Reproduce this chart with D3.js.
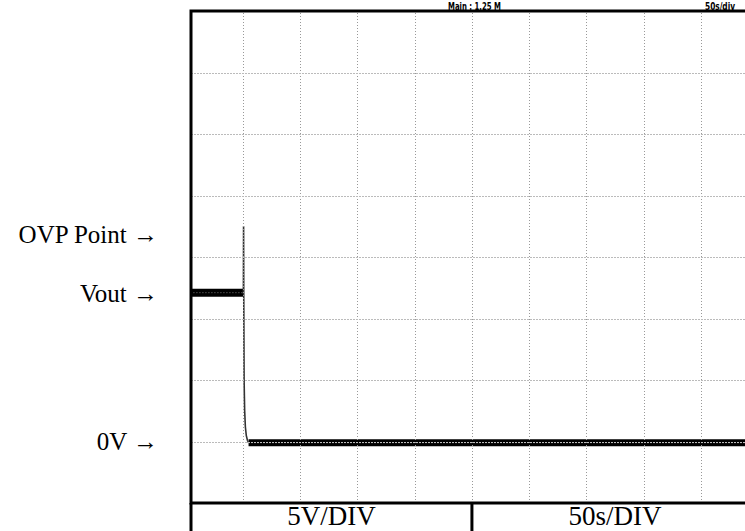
<!DOCTYPE html>
<html>
    <head>
        <meta charset="utf-8">
        <style>
        html, body {
            margin: 0px;
            background: #fff;
        }
        svg { display: block; }
        .grid line {
            stroke: #999;
            stroke-width: 1;
            shape-rendering: crispEdges;
        }
        .grid path { display: none; }
        .note {
            font-family: "Liberation Serif", "Times New Roman", serif;
            fill: #000;
        }
        .scope {
            font-family: "Liberation Sans Narrow", "DejaVu Sans", sans-serif;
            font-size: 10px;
            font-weight: bold;
            fill: #000;
        }
        </style>
    </head>
    <body>
        <svg class="chart" width="745" height="531"></svg>
        <script src="https://cdn.jsdelivr.net/npm/d3@7"></script>
        <script>
            // trace, volts vs seconds (50s/div, 5V/div)
            var voutTime = [-46, 0.3];
            var voutVolts = [12.1, 12.1];
            var spikeTime = [0.3, 0.45, 0.6, 0.9, 1.4, 2.0, 2.8, 3.8, 4.8];
            var spikeVolts = [12, 17.5, 12, 5, 2.5, 1.2, 0.5, 0.1, -0.1];
            var offTime = [4.8, 460];
            var offVolts = [-0.1, -0.1];

            var timeTicks = [0, 50, 100, 150, 200, 250, 300, 350, 400];
            var voltTicks = [0, 5, 10, 15, 20, 25, 30];

            var labels = ["OVP Point \u2192", "Vout \u2192", "0V \u2192"];
            var labelVolts = [16.8, 12, 0];
            var footer = ["5V/DIV", "50s/DIV"];
            var header = ["Main : 1.25 M", "50s/div"];

            var margin = {top: 11, left: 191},
                width = 567,
                height = 492;

            var svg = d3.select(".chart");

            var x = d3.scaleLinear().domain([-45.5, 450]).range([0, width]);
            var y = d3.scaleLinear().domain([-5, 35]).range([height, 0]);

            var chart = svg.append("g")
                .attr("transform", "translate(" + margin.left + "," + margin.top + ")");

            chart.append("defs").append("clipPath").attr("id", "plot")
                .append("rect").attr("width", width).attr("height", height);

            // trace
            var trace = chart.append("g").attr("clip-path", "url(#plot)");
            var line = d3.line()
                .x(function(d) { return x(d[0]); })
                .y(function(d) { return y(d[1]); });

            function pairs(t, v) {
                return t.map(function(d, i) { return [d, v[i]]; });
            }

            [[voutTime, voutVolts, 8], [offTime, offVolts, 7]].forEach(function(s) {
                trace.append("path")
                    .attr("d", line(pairs(s[0], s[1])))
                    .attr("fill", "none")
                    .attr("stroke", "#000")
                    .attr("stroke-width", s[2]);
                trace.append("path")
                    .attr("d", line(pairs(s[0], s[1])))
                    .attr("fill", "none")
                    .attr("stroke", "#777")
                    .attr("stroke-width", 1)
                    .attr("stroke-dasharray", "1,2");
            });

            trace.append("path")
                .attr("d", line(pairs(spikeTime, spikeVolts)))
                .attr("fill", "none")
                .attr("stroke", "#333")
                .attr("stroke-width", 1.6);

            // grid
            chart.append("g")
                .attr("class", "grid")
                .attr("transform", "translate(0," + height + ")")
                .call(d3.axisBottom(x).tickValues(timeTicks).tickSize(height).tickFormat(""))
                .selectAll("line")
                .attr("y2", -height)
                .attr("stroke-dasharray", "1,2");

            chart.append("g")
                .attr("class", "grid")
                .call(d3.axisLeft(y).tickValues(voltTicks).tickSize(-width).tickFormat(""))
                .selectAll("line")
                .style("stroke", "#bbb")
                .attr("stroke-dasharray", "2,1");

            // frame
            chart.append("rect")
                .attr("width", width)
                .attr("height", height)
                .attr("fill", "none")
                .attr("stroke", "#000")
                .attr("stroke-width", 3);

            // bottom table
            var cellX = [x(-45.5), x(200), x(450)];
            chart.append("line")
                .attr("x1", 0).attr("x2", 0)
                .attr("y1", height).attr("y2", height + 40)
                .attr("stroke", "#000").attr("stroke-width", 3);
            chart.append("line")
                .attr("x1", cellX[1]).attr("x2", cellX[1])
                .attr("y1", height).attr("y2", height + 40)
                .attr("stroke", "#000").attr("stroke-width", 3);
            footer.forEach(function(t, i) {
                chart.append("text")
                    .attr("class", "note")
                    .attr("x", (cellX[i] + cellX[i + 1]) / 2)
                    .attr("y", height + 22)
                    .attr("text-anchor", "middle")
                    .style("font-size", "27px")
                    .text(t);
            });

            // header texts
            svg.append("text").attr("class", "scope")
                .attr("x", 448).attr("y", 10)
                .attr("textLength", 53).attr("lengthAdjust", "spacingAndGlyphs")
                .text(header[0]);
            svg.append("text").attr("class", "scope")
                .attr("x", 705).attr("y", 10)
                .attr("textLength", 30).attr("lengthAdjust", "spacingAndGlyphs")
                .text(header[1]);

            // level labels
            labels.forEach(function(t, i) {
                svg.append("text")
                    .attr("class", "note")
                    .attr("x", 158)
                    .attr("y", margin.top + y(labelVolts[i]))
                    .attr("dy", "0.33em")
                    .attr("text-anchor", "end")
                    .style("font-size", "25px")
                    .text(t);
            });
        </script>
    </body>
</html>
